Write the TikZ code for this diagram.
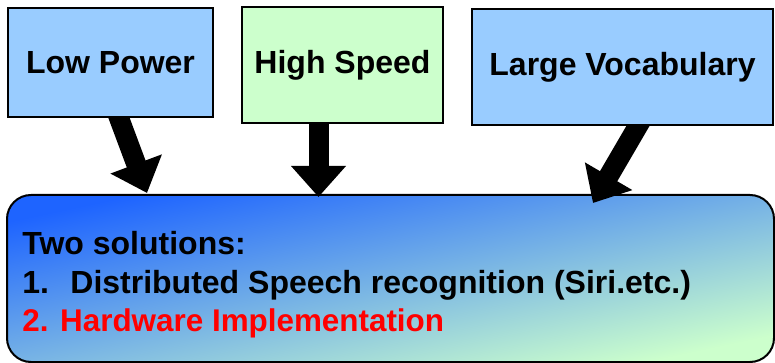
\documentclass[tikz,border=0pt]{standalone}
\usepackage{fontspec}
\setmainfont{Liberation Sans}
\usetikzlibrary{arrows.meta}
\pgfdeclarelayer{bg}
\pgfsetlayers{bg,main}
\definecolor{boxblue}{RGB}{153,204,255}
\definecolor{boxgreen}{RGB}{204,255,204}
\definecolor{gradblue}{RGB}{30,100,255}
\definecolor{gradgreen}{RGB}{204,255,204}
\definecolor{textred}{RGB}{255,0,0}
\begin{document}
\begin{tikzpicture}[x=0.5pt,y=-0.5pt,
  font=\fontsize{16}{19.5}\selectfont\bfseries,
  topbox/.style={draw=black, line width=1pt, inner sep=0pt},
  bigarrow/.style={line width=10pt, -{Triangle[length=15.5pt,width=26.5pt]}},
  linetext/.style={anchor=base west, inner sep=0pt}]
\useasboundingbox (0,0) rectangle (775,363);
\node[topbox, fill=boxblue, minimum width=102.5pt, minimum height=54.5pt] (lp) at (110.5,62.5) {Low Power};
\node[topbox, fill=boxgreen, minimum width=100.5pt, minimum height=58pt] (hs) at (342.5,65) {High Speed};
\node[topbox, fill=boxblue, minimum width=150.5pt, minimum height=58pt] (lv) at (622.5,67) {Large Vocabulary};
\coordinate (t1) at (147,193);
\coordinate (t2) at (318.5,197);
\coordinate (t3) at (593,203);
\begin{pgfonlayer}{bg}
\node[draw=black, line width=1pt, rounded corners=12pt, inner sep=0pt,
      top color=gradblue, bottom color=gradgreen, shading angle=12,
      minimum width=383.5pt, minimum height=83.5pt] (sol) at (390.5,278.5) {};
\draw[bigarrow] ([xshift=1.65pt,yshift=7pt]lp.south) -- (t1);
\draw[bigarrow] ([xshift=-12pt,yshift=9pt]hs.south) -- (t2);
\draw[bigarrow] ([xshift=11.5pt,yshift=6.5pt]lv.south) -- (t3);
\end{pgfonlayer}
\node[linetext] (l1) at (22,254) {Two solutions:};
\node[linetext] (l2) at (22,293) {\makebox[24pt][l]{1.}Distributed Speech recognition (Siri.etc.)};
\node[linetext, text=textred, font=\fontsize{15.7}{19.5}\selectfont\bfseries] (l3) at (22,331) {2. Hardware Implementation};
\end{tikzpicture}
\end{document}
